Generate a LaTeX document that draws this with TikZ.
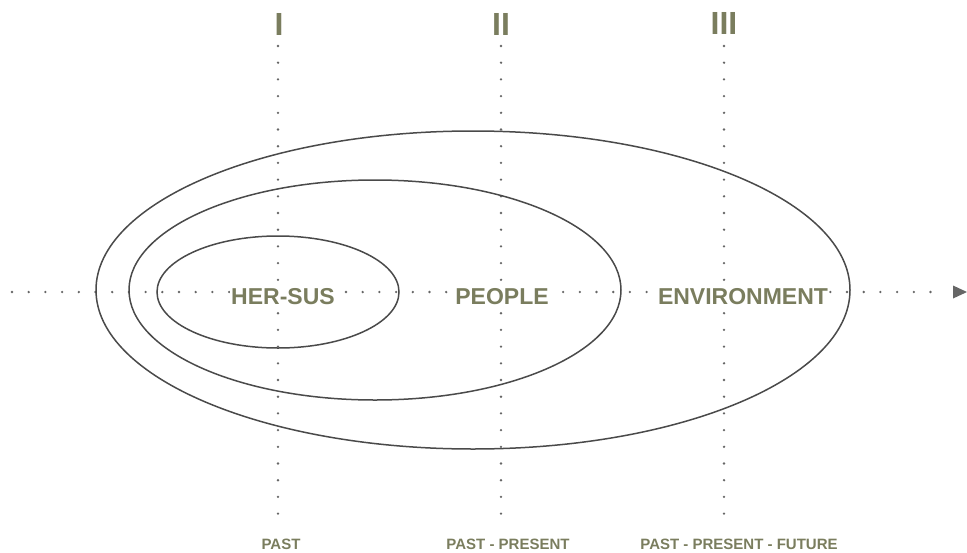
\documentclass[tikz,border=0pt]{standalone}
\usepackage{fontspec}
\setmainfont{Liberation Sans}
\usetikzlibrary{arrows.meta}
\definecolor{txt}{HTML}{7A7D5E}
\definecolor{ln}{HTML}{4A4A4A}
\definecolor{dotc}{HTML}{666666}
\begin{document}
\begin{tikzpicture}[x=1pt,y=-1pt,
  dotline/.style={dotc,line width=2.6pt,line cap=round,dash pattern=on 0pt off 16.7pt},
  ell/.style={ln,line width=1.5pt},
  big/.style={txt,font=\bfseries\fontsize{23}{25}\selectfont,fill=white,inner xsep=1.5pt,inner ysep=0pt},
  roman/.style={txt,font=\bfseries\fontsize{32}{34}\selectfont,inner sep=0pt},
  small/.style={txt,font=\bfseries\fontsize{15}{17}\selectfont,inner sep=0pt}]
\useasboundingbox (0,0) rectangle (967,552);
% axis
\coordinate (hs) at (12,292);
\coordinate (he) at (945,292);
\draw[dotline] (hs) -- (he);
\fill[dotc] (953,285.5) -- (967,292) -- (953,298.5) -- cycle;
\coordinate (v1s) at (278,46); \coordinate (v1e) at (278,530);
\coordinate (v2s) at (501,46); \coordinate (v2e) at (501,530);
\coordinate (v3s) at (724,46); \coordinate (v3e) at (724,530);
\draw[dotline] (v1s) -- (v1e);
\draw[dotline] (v2s) -- (v2e);
\draw[dotline] (v3s) -- (v3e);
% ellipses
\draw[ell] (473,290) ellipse [x radius=377, y radius=159];
\draw[ell] (375,290) ellipse [x radius=246, y radius=110];
\draw[ell] (278,292) ellipse [x radius=121, y radius=56];
% labels
\node[roman] (r1) at (279,24) {I};
\node[roman] (r2) at (501,24) {II};
\node[roman] (r3) at (724,23) {III};
\node[big] (hersus) at (283,297) {HER-SUS};
\node[big] (people) at (502,297) {PEOPLE};
\node[big] (env) at (743,297) {ENVIRONMENT};
\node[small] (p1) at (281,544) {PAST};
\node[small] (p2) at (508,544) {PAST - PRESENT};
\node[small] (p3) at (739,544) {PAST - PRESENT - FUTURE};
\end{tikzpicture}
\end{document}
